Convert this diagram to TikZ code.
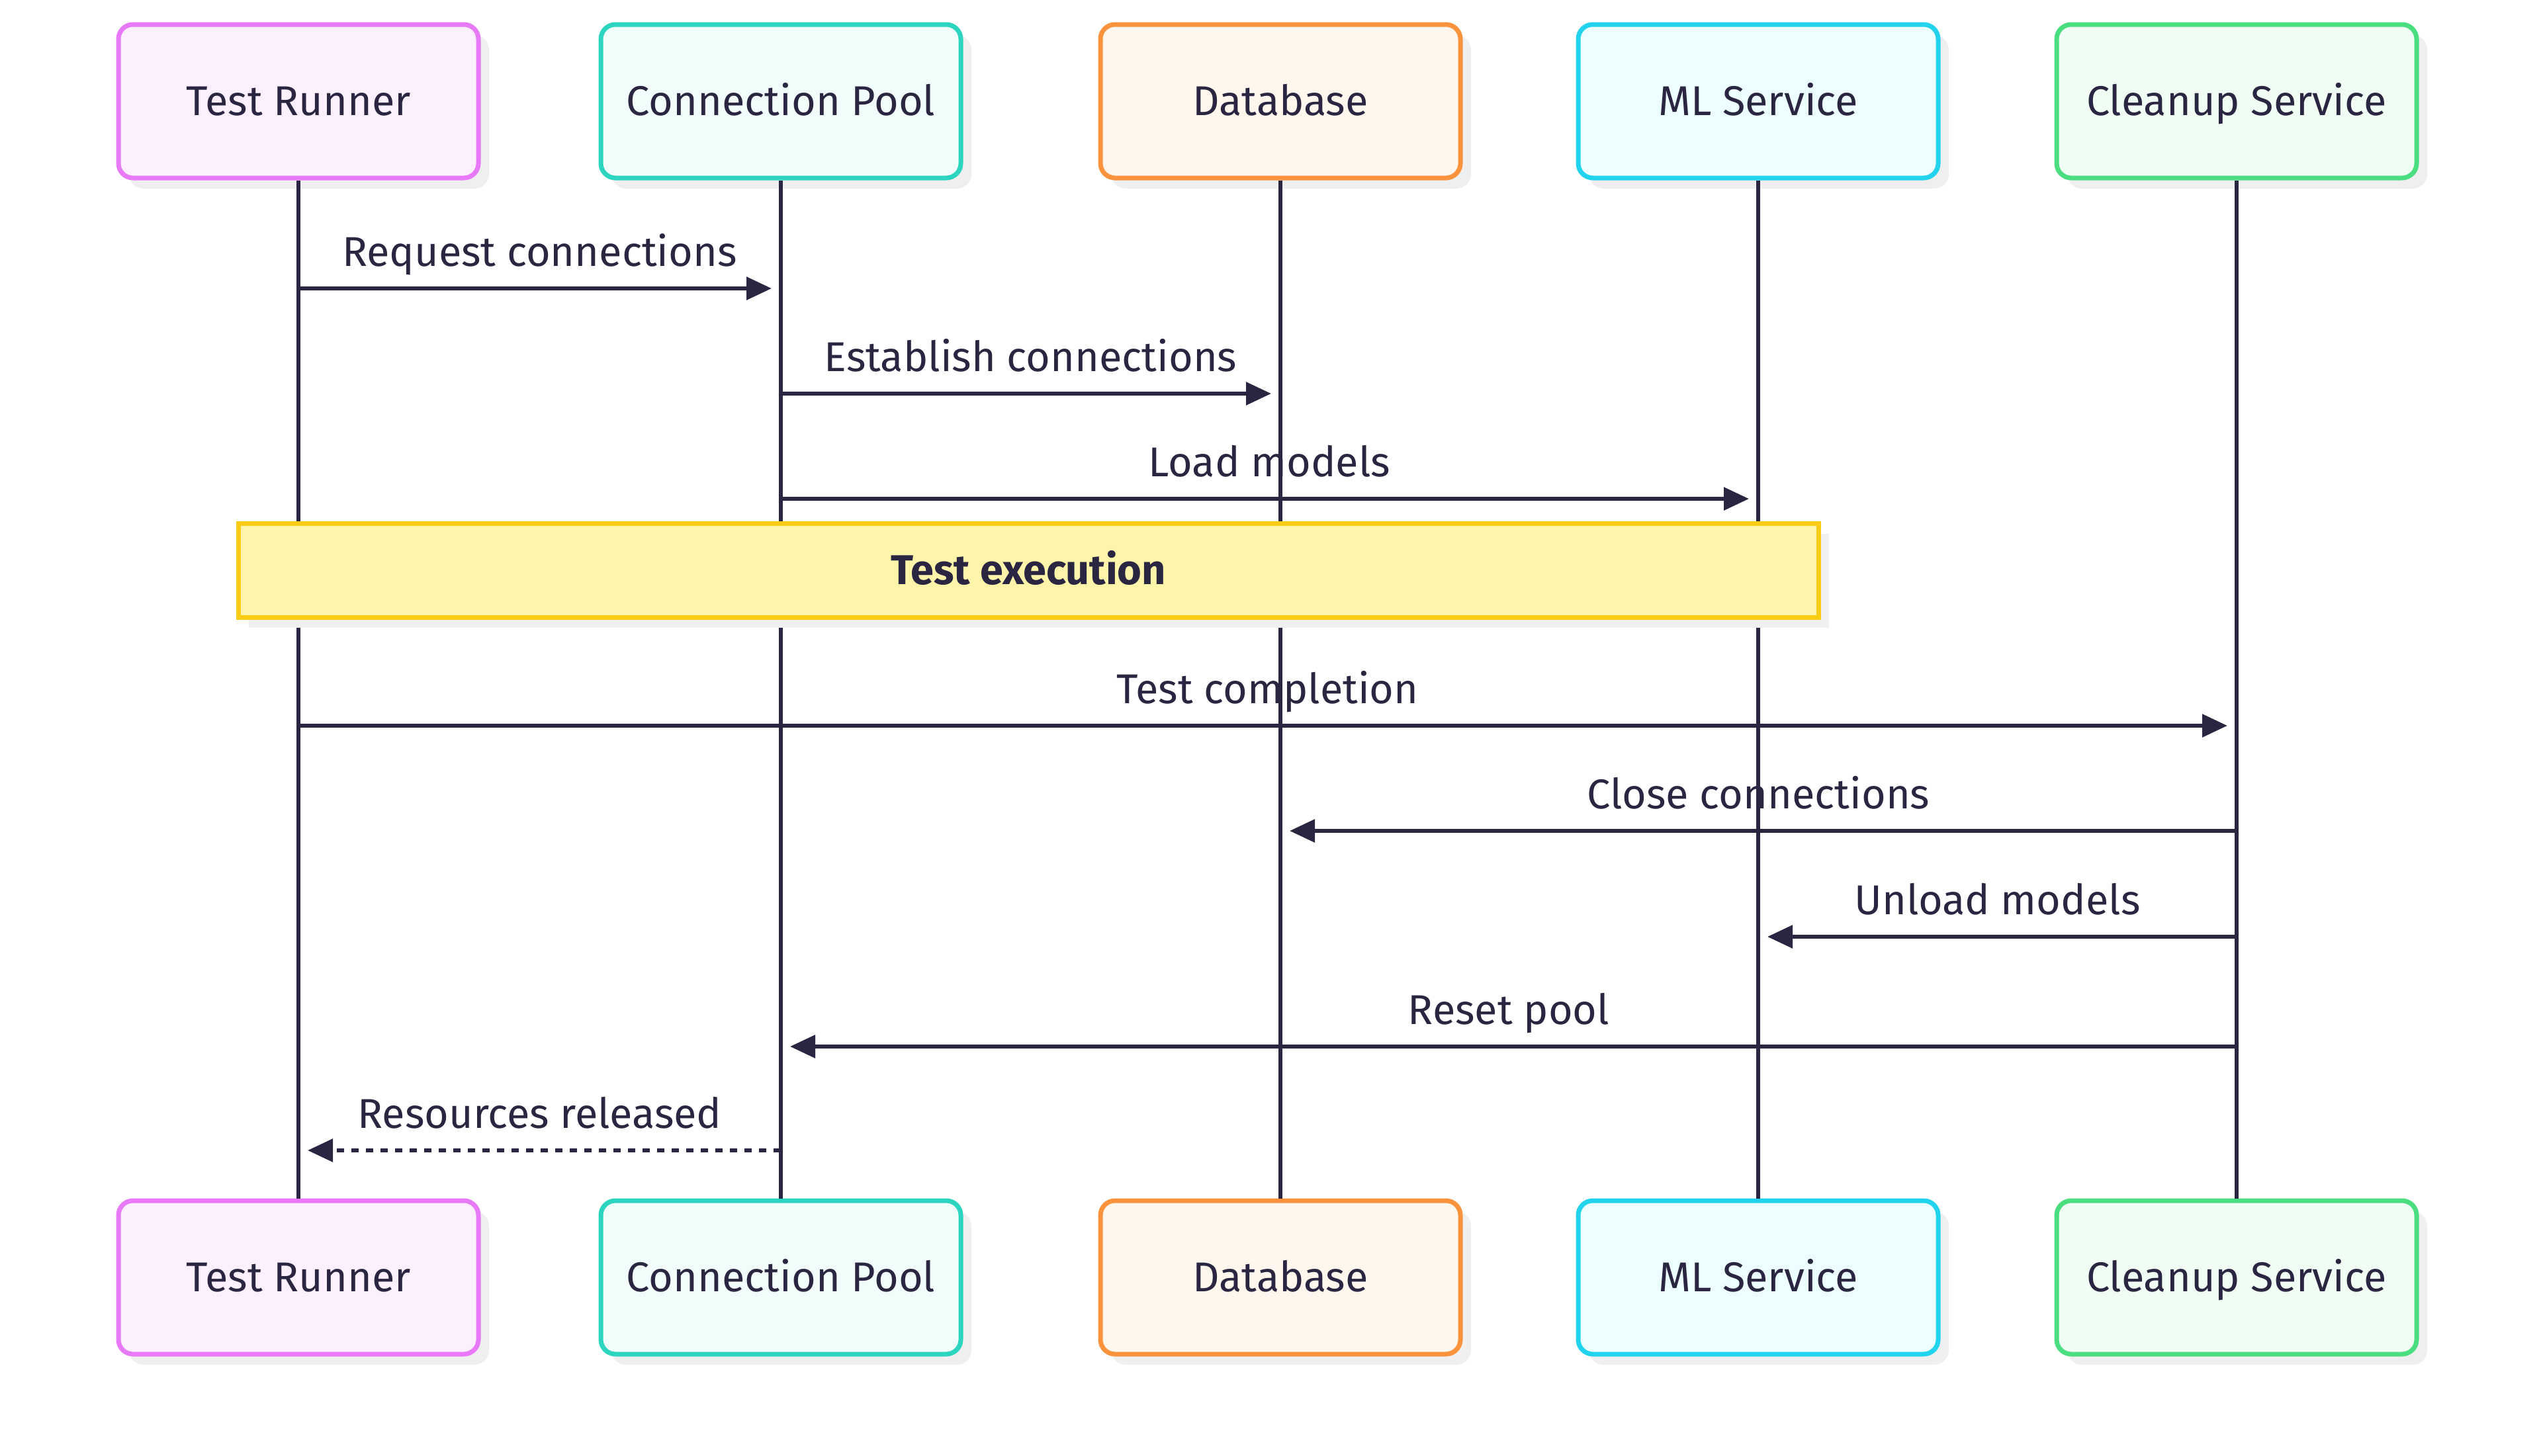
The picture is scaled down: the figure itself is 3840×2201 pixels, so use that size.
\documentclass[tikz,border=0pt]{standalone}
\usepackage{fontspec}
\setmainfont{Fira Sans}
\usetikzlibrary{arrows.meta,shadows}
\definecolor{ink}{HTML}{2A2540}
\definecolor{shd}{HTML}{EFEFEF}
\definecolor{trB}{HTML}{E879F9}\definecolor{trF}{HTML}{FDF0FE}
\definecolor{cpB}{HTML}{2DD4BF}\definecolor{cpF}{HTML}{F0FDFA}
\definecolor{dbB}{HTML}{FB923C}\definecolor{dbF}{HTML}{FFF7ED}
\definecolor{mlB}{HTML}{22D3EE}\definecolor{mlF}{HTML}{ECFEFF}
\definecolor{csB}{HTML}{4ADE80}\definecolor{csF}{HTML}{F0FDF4}
\definecolor{ntB}{HTML}{FACC15}\definecolor{ntF}{HTML}{FEF4AA}
\tikzset{
  actor/.style={draw=#1B, fill=#1F, line width=3.5pt, rounded corners=11pt,
    minimum width=272pt, minimum height=116pt, text=ink, inner sep=0pt,
    font=\fontsize{31.5}{38}\selectfont, text height=21.7pt, text depth=0pt,
    drop shadow={shadow xshift=8pt, shadow yshift=-8pt, fill=shd, opacity=1}},
  life/.style={draw=ink, line width=3.2pt},
  msg/.style={draw=ink, line width=3pt, -{Triangle[length=19pt,width=17pt]}, shorten >=7pt},
  rmsg/.style={msg, dash pattern=on 5.5pt off 5.5pt},
  lbl/.style={text=ink, font=\fontsize{31.5}{38}\selectfont, inner sep=0pt,
    text height=23.6pt, text depth=7.9pt},
  notebox/.style={draw=ntB, fill=ntF, line width=3.5pt, text=ink,
    font=\fontsize{31.5}{38}\selectfont\bfseries, inner sep=0pt,
    text height=21.7pt, text depth=0pt,
    drop shadow={shadow xshift=8pt, shadow yshift=-8pt, fill=shd, opacity=1}}
}
\begin{document}
\begin{tikzpicture}[x=0.5pt,y=-0.5pt]
\useasboundingbox[fill=white] (0,0) rectangle (3840,2201);
% actors
\node[actor=tr] (trT) at (451,153) {Test Runner};
\node[actor=cp] (cpT) at (1180,153) {Connection Pool};
\node[actor=db] (dbT) at (1935,153) {Database};
\node[actor=ml] (mlT) at (2657,153) {ML Service};
\node[actor=cs] (csT) at (3380,153) {Cleanup Service};
\node[actor=tr] (trB) at (451,1931) {Test Runner};
\node[actor=cp] (cpB) at (1180,1931) {Connection Pool};
\node[actor=db] (dbB) at (1935,1931) {Database};
\node[actor=ml] (mlB) at (2657,1931) {ML Service};
\node[actor=cs] (csB) at (3380,1931) {Cleanup Service};
% lifelines
\foreach \a in {tr,cp,db,ml,cs}{\draw[life] (\a T.south) -- (\a B.north);}
% message anchor points
\coordinate (m1a) at (451,436);  \coordinate (m1b) at (1180,436);
\coordinate (m2a) at (1180,595); \coordinate (m2b) at (1935,595);
\coordinate (m3a) at (1180,754); \coordinate (m3b) at (2657,754);
\coordinate (m4a) at (451,1097); \coordinate (m4b) at (3380,1097);
\coordinate (m5a) at (3380,1256); \coordinate (m5b) at (1935,1256);
\coordinate (m6a) at (3380,1416); \coordinate (m6b) at (2657,1416);
\coordinate (m7a) at (3380,1582); \coordinate (m7b) at (1180,1582);
\coordinate (m8a) at (1180,1739); \coordinate (m8b) at (451,1739);
% messages
\draw[msg] (m1a) -- node[lbl, above=7.5pt] (l1) {Request connections} (m1b);
\draw[msg] (m2a) -- node[lbl, above=7.5pt] (l2) {Establish connections} (m2b);
\draw[msg] (m3a) -- node[lbl, above=7.5pt] (l3) {Load models} (m3b);
\draw[msg] (m4a) -- node[lbl, above=7.5pt] (l4) {Test completion} (m4b);
\draw[msg] (m5a) -- node[lbl, above=7.5pt] (l5) {Close connections} (m5b);
\draw[msg] (m6a) -- node[lbl, above=7.5pt] (l6) {Unload models} (m6b);
\draw[msg] (m7a) -- node[lbl, above=7.5pt] (l7) {Reset pool} (m7b);
\draw[rmsg] (m8a) -- node[lbl, above=7.5pt] (l8) {Resources released} (m8b);
% note
\node[notebox, minimum width=1194pt, minimum height=71pt] (note) at (1554,862) {Test execution};
\end{tikzpicture}
\end{document}
